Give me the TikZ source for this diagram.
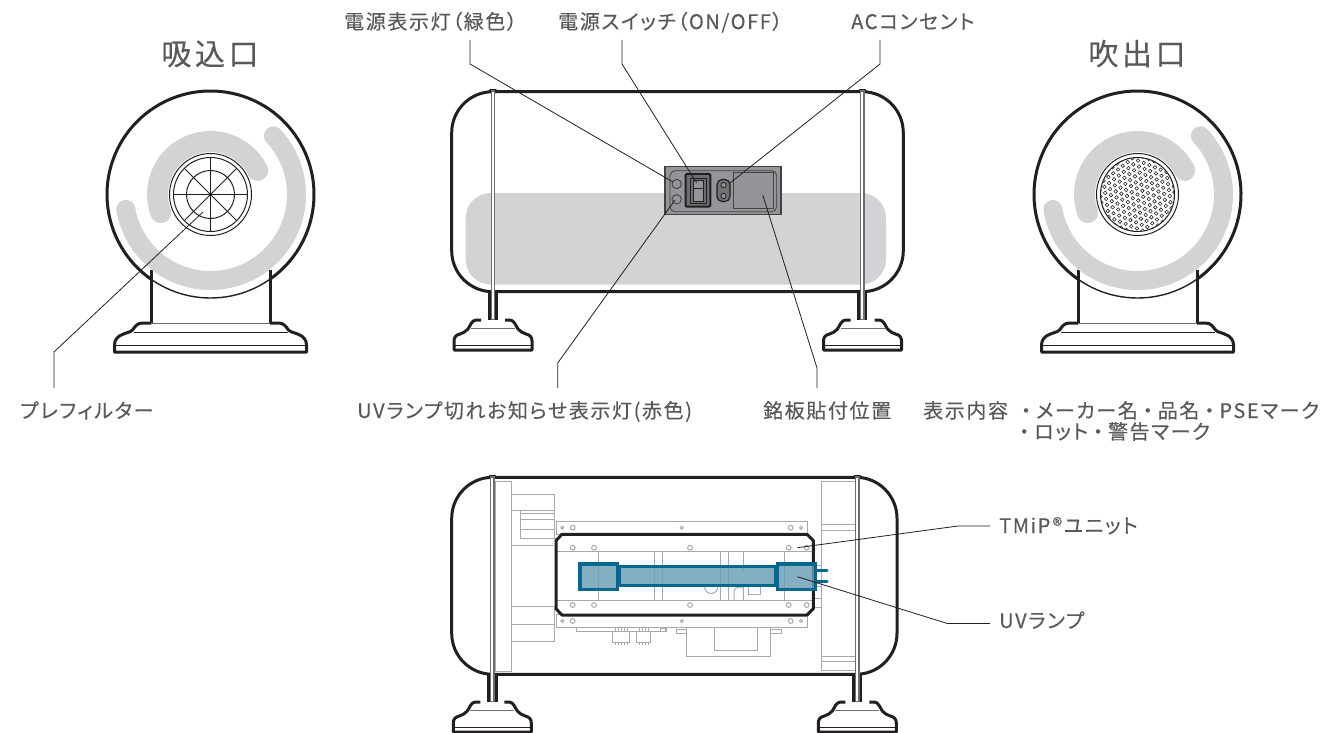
\documentclass[tikz,border=0pt]{standalone}
\usepackage{fontspec}
\usetikzlibrary{calc}
\newfontfamily\jp[RawFeature=+palt,LetterSpace=8,FakeBold=0.2]{Noto Sans CJK JP}
\newfontfamily\jpd[LetterSpace=8,FakeBold=0.2]{Noto Sans CJK JP}
\newfontfamily\jpt[RawFeature=+palt,LetterSpace=12,FakeBold=0.25]{Noto Sans CJK JP}
\newcommand{\dt}{{\jpd ・}}
\definecolor{ink}{HTML}{231F20}
\definecolor{txt}{HTML}{58595B}
\definecolor{band}{HTML}{D1D3D4}
\definecolor{thin}{HTML}{A7A9AC}
\definecolor{rodc}{HTML}{6D6E71}
\definecolor{panel}{HTML}{939598}
\definecolor{lampl}{HTML}{00688F}
\definecolor{lampf}{HTML}{6A9DB5}
\tikzset{
  label/.style={font=\jp\fontsize{20}{24}\selectfont,text=txt,inner sep=0pt,anchor=base west},
  title/.style={font=\jpt\fontsize{30}{35}\selectfont,text=txt,inner sep=0pt,anchor=base},
  leader/.style={draw=ink,line width=0.8pt},
  heavy/.style={draw=ink,line width=3pt},
  fine/.style={draw=ink,line width=1pt},
  gray/.style={draw=thin,line width=1pt},
  bandarc/.style={draw=band,line cap=round},
  hole/.style={draw=thin,line width=1pt,fill=white},
  lamp/.style={draw=lampl,line width=3.2pt,fill=lampf,fill opacity=.82},
}
\newcommand{\footmain}[2]{%
  \begin{scope}[shift={(#1,#2)}]
  \draw[heavy,line join=round,fill=white] (-12,0) -- (-17,0) .. controls (-21,0) and (-23,6) .. (-25,9) .. controls (-27,12) and (-30,12.5) .. (-33,14) .. controls (-37,15) and (-39,17) .. (-39,21) -- (-39,30) -- (39,30) -- (39,21) .. controls (39,17) and (37,15) .. (33,14) .. controls (30,12.5) and (27,12) .. (25,9) .. controls (23,6) and (21,0) .. (17,0) -- (12,0);
  \draw[draw=rodc,line width=1pt] (-22,8) -- (22,8);
  \draw[draw=ink,line width=1pt] (-38,25.5) -- (38,25.5);
  \end{scope}}
\newcommand{\footside}[2]{%
  \begin{scope}[shift={(#1,#2)}]
  \draw[heavy,line join=round,fill=white] (-59.5,0) -- (-68,0) .. controls (-73,0) and (-75,3) .. (-78,7) .. controls (-81,10) and (-84,9) .. (-87,11) .. controls (-93,13) and (-96,17) .. (-96,22) -- (-96,29) -- (96,29) -- (96,22) .. controls (96,17) and (93,13) .. (87,11) .. controls (84,9) and (81,10) .. (78,7) .. controls (75,3) and (73,0) .. (68,0) -- (59.5,0);
  \draw[draw=rodc,line width=1pt] (-59.5,.8) -- (59.5,.8);
  \draw[fine] (-77,9.5) -- (77,9.5);
  \draw[fine] (-95,22) -- (95,22);
  \end{scope}}
\newcommand{\sideunit}[1]{%
  \coordinate (c) at (#1,194.5);
  \draw[heavy] ($(c)+(-59.5,75)$) -- ($(c)+(-59.5,129)$);
  \draw[heavy] ($(c)+(59.5,75)$) -- ($(c)+(59.5,129)$);
  \footside{#1}{323}
  \draw[bandarc,line width=19pt] ([shift={(190:86pt)}]c) arc[start angle=190,end angle=403,radius=86pt];
  \draw[bandarc,line width=21pt] ([shift={(200:53pt)}]c) arc[start angle=200,end angle=27,radius=53pt];
  \draw[fine,line width=1.4pt] (c) circle[radius=103.5pt];
  \draw[heavy] ([shift={(-55:103.5pt)}]c) arc[start angle=-55,end angle=235,radius=103.5pt];
  \draw[fill=white,draw=ink,line width=1pt] (c) circle[radius=41pt];
  \draw[fine] (c) circle[radius=37pt];}
\newcommand{\rod}[2]{% x, top
  \draw[draw=ink,line width=3pt,line cap=round] (#1-2.8,#2+.3) -- (#1+2.8,#2+.3);
  \draw[draw=rodc,line width=4.4pt] (#1,#2) -- (#1,320);}
\begin{document}
\begin{tikzpicture}[x=1pt,y=-1pt]
\useasboundingbox (0,0) rectangle (1323,733);
\fill[white] (0,0) rectangle (1323,733);
%% ---------- left unit
\sideunit{210.5}
\draw[fine] (c) circle[radius=24pt];
\foreach \a in {0,45,...,315} \draw[fine] (c) -- ++(\a:37pt);
\coordinate (filterpt) at (203,212);
%% ---------- right unit
\sideunit{1137.5}
\begin{scope}
  \clip (c) circle[radius=37pt];
  \foreach \i in {-8,...,8}
    \foreach \j in {-8,...,8}
      \draw[draw=ink,line width=.55pt] ($(c)+({6.1*(\i*cos(22)+\j*cos(82))},{6.1*(\i*sin(22)+\j*sin(82))})$) circle[radius=1.8pt];
\end{scope}
%% ---------- main unit
\draw[heavy] (493,91.7) -- (451.7+41,91.7) arc[start angle=90,end angle=180,radius=41pt] -- (451.7,250.7) arc[start angle=180,end angle=270,radius=41pt] -- (862.3,291.7) arc[start angle=270,end angle=360,radius=41pt] -- (903.3,132.7) arc[start angle=0,end angle=90,radius=41pt] -- cycle;
\fill[band,rounded corners=25pt] (465.7,193) rectangle (886,284.5);
\foreach \x in {489.6,496.6,858.6,865.9} \draw[heavy] (\x,291) -- (\x,321);
\footmain{493}{320}
\footmain{862.5}{320}
\rod{493}{90}
\rod{862.3}{90}
\draw[draw=white,line width=2.2pt] (493,92) -- (493,319);
\draw[draw=white,line width=2.2pt] (862.3,92) -- (862.3,319);
% panel
\draw[fill=panel,draw=ink!85,line width=1.2pt] (665,166.7) rectangle (781,214.3);
\draw[draw=ink!85,line width=.8pt,rounded corners=5pt] (670,170.7) rectangle (776.7,211.7);
\draw[draw=ink!85,line width=.9pt] (676.7,184) circle[radius=4.7pt];
\draw[draw=ink!85,line width=.9pt] (676.7,199.3) circle[radius=4.7pt];
\draw[draw=ink,fill=rodc,line width=2pt,rounded corners=1pt] (685.5,174) rectangle (710.3,206.5);
\draw[draw=ink,line width=1pt] (690,178.5) rectangle (706,203);
\draw[draw=ink,line width=1pt,fill=panel] (693,180.5) rectangle (703,201);
\draw[draw=ink,line width=.8pt] (693,188) -- (703,188);
\draw[draw=ink,line width=1.2pt,rounded corners=5pt,fill=panel!70!ink] (717,179.5) rectangle (730,201.5);
\draw[draw=ink,line width=.8pt,fill=panel] (723.5,185) circle[radius=2.6pt];
\draw[draw=ink,line width=.8pt,fill=panel] (723.5,196) circle[radius=2.6pt];
\draw[draw=ink!85,line width=.9pt] (733,172.7) rectangle (773,208.7);
%% ---------- lower unit
\draw[heavy] (492.7,477.3) arc[start angle=90,end angle=180,radius=41pt] -- (451.7,633.3) arc[start angle=180,end angle=270,radius=41pt] -- (856,674.3) arc[start angle=270,end angle=360,radius=41pt] -- (897,518.3) arc[start angle=0,end angle=90,radius=41pt] -- cycle;
% gray inner work
\draw[gray] (495,481) rectangle (511.7,671.7);
\draw[gray] (511.7,494) rectangle (554.3,510.7);
\draw[gray] (520.7,510.7) rectangle (554.3,538.3);
\draw[gray] (520.7,513.5) -- (554.3,513.5) (520.7,519.3) -- (554.3,519.3) (520.7,529.3) -- (554.3,529.3);
\draw[gray] (511.7,510.7) -- (511.7,545.3) -- (554.3,545.3);
\draw[gray] (511.7,606.7) rectangle (554.3,641.7);
\draw[gray] (511.7,624.3) -- (554.3,624.3);
\draw[gray] (556.7,521.7) rectangle (807.3,534);
\draw[gray] (556.7,614.5) rectangle (807.3,627.7);
\foreach \y in {527.7,621}{
  \foreach \x in {562.3,681.7,801} \draw[hole] (\x,\y) circle[radius=1.5pt];
  \foreach \x in {572.7,790.7} \draw[hole] (\x,\y) circle[radius=2.4pt];}
\foreach \y in {547.7,605}
  \foreach \x in {572.7,594,690,788.7,806.7} \draw[hole] (\x,\y) circle[radius=2.4pt];
\draw[gray] (556,551.7) -- (813,551.7) (556,600.7) -- (813,600.7);
\draw[gray] (598.3,551.7) -- (598.3,600.7) (654,551.7) -- (654,600.7) (662.3,551.7) -- (662.3,600.7) (720,551.7) -- (720,600.7) (728,551.7) -- (728,600.7) (743.3,551.7) -- (743.3,572) (784,551.7) -- (784,600.7);
\draw[gray] (704.7,587) arc[start angle=180,end angle=360,radius=6.5pt];
\draw[gray] (734,600.7) -- (734,592) arc[start angle=180,end angle=90,radius=5pt] -- (743.3,587) -- (743.3,600.7);
\draw[gray] (748.3,587) -- (748.3,594.5) -- (760,594.5) -- (760,587);
\draw[gray] (576.7,627.7) rectangle (665.7,631.3);
\draw[gray] (612.7,631.3) rectangle (629.3,642.7);
\draw[gray] (636.7,631.3) rectangle (650.7,642.7);
\foreach \x in {615,618,621,624,627} \draw[draw=thin,line width=.6pt] (\x,627.7) -- (\x,631) (\x,643) -- (\x,645);
\foreach \x in {639,642,645,648} \draw[draw=thin,line width=.6pt] (\x,627.7) -- (\x,631) (\x,643) -- (\x,645);
\draw[gray] (676.7,629.3) rectangle (686.7,633.3);
\draw[gray] (770.7,629.3) rectangle (781,633.3);
\draw[gray] (686.7,627.7) -- (686.7,656) -- (770.7,656) -- (770.7,627.7);
\draw[gray] (714,627.7) -- (714,650.3) -- (757.3,650.3) -- (757.3,627.7);
\draw[gray] (660,628.5) rectangle (666,631.3);
\draw[gray] (821.7,481) rectangle (856,670.7);
\draw[gray] (821.7,524.3) -- (856,524.3) (821.7,530) -- (856,530) (821.7,656) -- (856,656) (821.7,661) -- (856,661);
\draw[gray] (813,565) -- (821.7,565) (813,586) rectangle (821.7,607.3) (813,598) -- (821.7,598);
% black TMiP frame
\draw[heavy,line join=round] (562,534.3) -- (807,534.3) -- (813.3,540.5) -- (813.3,608.8) -- (807,615) -- (562,615) -- (556,608.8) -- (556,540.5) -- cycle;
% lamp
\draw[draw=lampl,line width=3pt,line cap=round] (816,570) -- (827,570) (816,581) -- (827,581);
\draw[lamp] (619,566.6) rectangle (775.7,585.8);
\draw[lamp] (579.9,563.9) rectangle (617.4,589.1);
\draw[lamp] (777.3,563.9) rectangle (815.1,589.1);
% rods of lower unit
\foreach \x in {488.7,496,853.4,860.7} \draw[heavy] (\x,674) -- (\x,703);
\footmain{492.3}{702}
\footmain{857.3}{702}
\draw[draw=ink,line width=3pt,line cap=round] (489.5,476) -- (495.1,476);
\draw[draw=ink,line width=3pt,line cap=round] (854.5,476) -- (860.1,476);
\draw[draw=rodc,line width=4.4pt] (492.3,476) -- (492.3,702);
\draw[draw=rodc,line width=4.4pt] (857.3,476) -- (857.3,702);
\draw[draw=white,line width=2.2pt] (492.3,478) -- (492.3,701);
\draw[draw=white,line width=2.2pt] (857.3,478) -- (857.3,701);
%% ---------- leader points
\coordinate (ledG) at (673,182);
\coordinate (swt) at (696.7,183);
\coordinate (sock) at (730,183);
\coordinate (ledR) at (675,200);
\coordinate (plate) at (762.7,195);
\coordinate (tmip) at (797.3,547.7);
\coordinate (uvl) at (797.3,576.7);
%% ---------- texts
\node[title] (tL) at (210,65) {吸込口};
\node[title] (tR) at (1137,65) {吹出口};
\node[label] (a) at (344,29) {電源表示灯（緑色）};
\node[label] (b) at (558,29) {電源スイッチ（ON/OFF）};
\node[label] (d) at (851,29) {ACコンセント};
\node[label] (e) at (20,418) {プレフィルター};
\node[label] (f) at (357,418) {UVランプ切れお知らせ表示灯(赤色)};
\node[label] (g) at (763,418) {銘板貼付位置};
\node[label] (h) at (923,418) {表示内容\hspace{8pt}\dt メーカー名\dt 品名\dt PSEマーク};
\node[label] (i) at (1014,439) {\dt ロット\dt 警告マーク};
\node[label] (j) at (999,533) {TMiP®ユニット};
\node[label] (k) at (999,628) {UVランプ};
%% ---------- leaders
\draw[leader] (470,40) -- (470,64) -- (ledG);
\draw[leader] (622,40) -- (622,64) -- (swt);
\draw[leader] (880,40) -- (880,64) -- (sock);
\draw[leader] (54,388) -- (54,352) -- (filterpt);
\draw[leader] (557.7,388) -- (557.7,363) -- (ledR);
\draw[leader] (817,388) -- (817,368) -- (plate);
\draw[leader] (990,526) -- (958,526) -- (tmip);
\draw[leader] (990,623.4) -- (947,623.4) -- (uvl);
\end{tikzpicture}
\end{document}
